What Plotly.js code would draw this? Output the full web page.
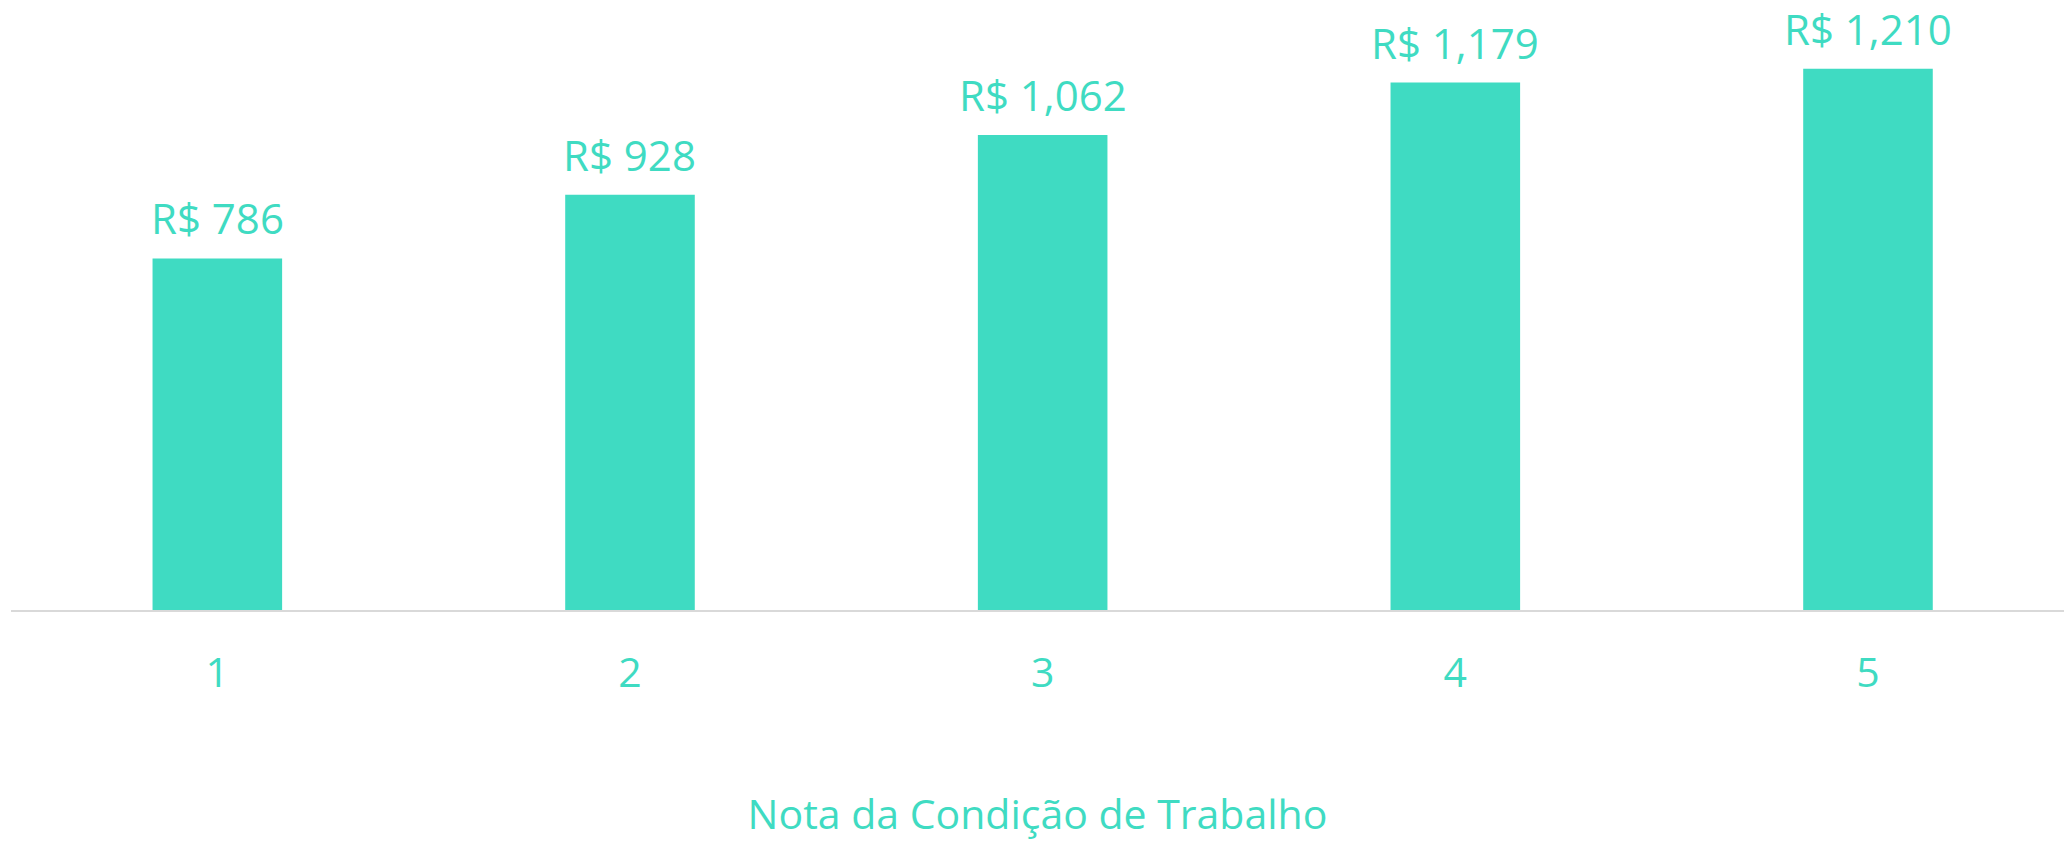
<!DOCTYPE html>
<html>
<head>
<meta charset="utf-8">
<script src="https://cdn.plot.ly/plotly-3.0.1.min.js"></script>
<style>html,body{margin:0;padding:0;background:#fff;}#chart{width:2064px;height:841px;}</style>
</head>
<body>
<div id="chart"></div>
<script>
const categories = ['1', '2', '3', '4', '5'];
const values = [786, 928, 1062, 1179, 1210];
const valueLabels = ['R$ 786', 'R$ 928', 'R$ 1,062', 'R$ 1,179', 'R$ 1,210'];
const axisTitle = 'Nota da Condição de Trabalho';

const teal = '#3FDBC2';
const font = '"Open Sans", sans-serif';

const trace = {
  type: 'bar',
  x: categories,
  y: values,
  marker: {color: teal},
  hoverinfo: 'none'
};

const annotations = categories.map((c, i) => ({
  x: i, y: values[i], xref: 'x', yref: 'y',
  text: valueLabels[i], showarrow: false,
  yanchor: 'bottom', yshift: 10,
  font: {family: font, size: 42, color: teal}
}));

const layout = {
  width: 2064, height: 841,
  margin: {l: 11, r: 0, t: 0, b: 231, pad: 0},
  paper_bgcolor: '#ffffff', plot_bgcolor: '#ffffff',
  bargap: 0.686,
  showlegend: false,
  xaxis: {
    type: 'category',
    range: [-0.5, 4.475],
    showline: true, linecolor: '#D9D9D9', linewidth: 2,
    showgrid: false, zeroline: false, ticks: '',
    ticklabelstandoff: 26,
    tickfont: {family: font, size: 41, color: teal},
    title: {text: axisTitle, standoff: 108, font: {family: font, size: 41, color: teal}}
  },
  yaxis: {
    range: [0, 1363.6],
    visible: false, showgrid: false, zeroline: false
  },
  annotations: annotations
};

Plotly.newPlot('chart', [trace], layout, {staticPlot: true, displayModeBar: false});
</script>
</body>
</html>
